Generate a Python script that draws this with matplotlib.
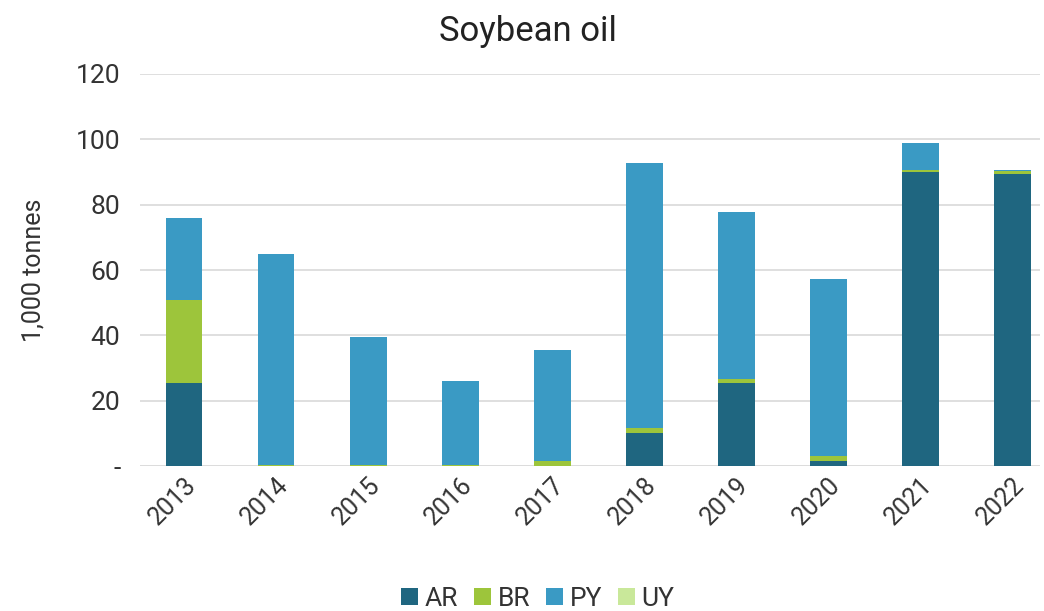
import matplotlib
matplotlib.use("Agg")
import matplotlib.pyplot as plt
import numpy as np

plt.rcParams['font.family'] = ['Roboto', 'DejaVu Sans']

years = ['2013', '2014', '2015', '2016', '2017', '2018', '2019', '2020', '2021', '2022']
ar = [25.5, 0.0, 0.0, 0.0, 0.0, 10.1, 25.3, 1.5, 90.0, 89.5]
br = [25.3, 0.5, 0.5, 0.4, 1.5, 1.5, 1.3, 1.5, 0.5, 0.7]
py = [25.0, 64.3, 38.9, 25.6, 34.0, 81.0, 51.2, 54.2, 8.4, 0.3]
uy = [0.0, 0.0, 0.0, 0.0, 0.0, 0.0, 0.0, 0.0, 0.0, 0.0]

series = [('AR', ar, '#1f6680'), ('BR', br, '#9dc53b'),
          ('PY', py, '#3a9ac4'), ('UY', uy, '#c9e89a')]

fig = plt.figure(figsize=(10.44, 6.11), dpi=100)
ax = fig.add_axes([0.134, 0.237, 0.862, 0.642])

x = np.arange(len(years))
bottom = np.zeros(len(years))
handles = []
for name, vals, col in series:
    vals = np.array(vals)
    b = ax.bar(x, vals, 0.4, bottom=bottom, color=col, label=name, zorder=3)
    bottom += vals
    handles.append(b)

ax.set_ylim(0, 120)
ax.set_xlim(-0.48, 9.3)
ax.set_yticks([0, 20, 40, 60, 80, 100, 120])
ax.set_yticklabels(['-', '20', '40', '60', '80', '100', '120'])
ax.set_xticks(x)
ax.set_xticklabels(years, rotation=45, ha='right', rotation_mode='anchor')
ax.tick_params(axis='y', length=0, pad=14, labelsize=19, labelcolor='#333333')
ax.tick_params(axis='x', length=0, pad=5, labelsize=18, labelcolor='#333333')
ax.grid(axis='y', color='#dcdcdc', linewidth=1.3, zorder=0)
for s in ax.spines.values():
    s.set_visible(False)
ax.axhline(0, color='#d9d9d9', linewidth=1.3, zorder=1)

ax.set_ylabel('1,000 tonnes', fontsize=18, color='#333333', labelpad=22)
fig.text(0.506, 0.948, 'Soybean oil', fontsize=25, color='#222222',
         ha='center', va='center')

fig.legend(handles=handles, labels=[s[0] for s in series], loc='center',
           bbox_to_anchor=(0.515, 0.02), ncol=4, frameon=False, fontsize=19,
           handlelength=0.65, handleheight=0.65, handletextpad=0.25,
           columnspacing=0.6, labelcolor='#333333')

fig.savefig('out.png', dpi=100)
